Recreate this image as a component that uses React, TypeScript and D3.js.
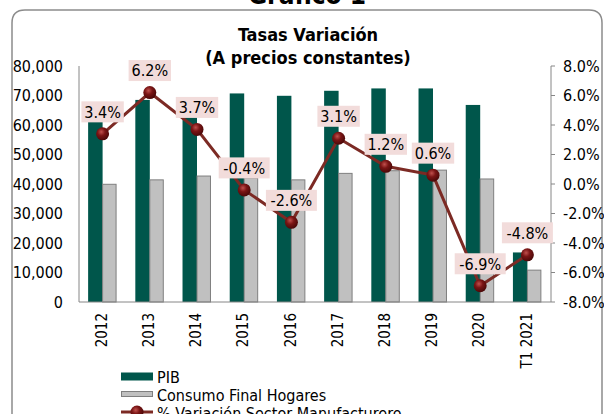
import React from 'react';
import * as d3 from 'd3';

const categories = ["2012", "2013", "2014", "2015", "2016", "2017", "2018", "2019", "2020", "T1 2021"];
const pib = [64500, 68500, 66500, 70700, 69900, 71600, 72400, 72400, 66800, 16800];
const consumo = [39900, 41400, 42700, 42000, 41400, 43600, 44500, 44700, 41700, 10800];
const variacion = [3.4, 6.2, 3.7, -0.4, -2.6, 3.1, 1.2, 0.6, -6.9, -4.8];
const leftTicks = [0, 10000, 20000, 30000, 40000, 50000, 60000, 70000, 80000];
const rightTicks = [-8, -6, -4, -2, 0, 2, 4, 6, 8];
const seriesNames = ["PIB", "Consumo Final Hogares", "% Variación Sector Manufacturero"];

const W = 604, H = 414;
const FONT = "'DejaVu Sans Condensed', 'DejaVu Sans', sans-serif";
const C_PIB = "#00564B";
const C_CONS = "#C0C0C0";
const C_CONS_STROKE = "#7F7F7F";
const C_LINE = "#7C2A24";
const C_LABEL = "#F2DCDB";
const C_AXIS = "#868686";

export default function App() {
  const left = 79, right = 551, top = 66, bottom = 302;
  const x0 = d3.scaleBand<string>().domain(categories).range([left, right]).padding(0);
  const x1 = d3.scaleBand<string>().domain(["pib", "cons"]).range([0, x0.bandwidth()]).paddingInner(0).paddingOuter(0.63);
  const yL = d3.scaleLinear().domain([0, 80000]).range([bottom, top]);
  const yR = d3.scaleLinear().domain([-8, 8]).range([bottom, top]);
  const fmtL = d3.format(",");
  const fmtR = (v: number) => v.toFixed(1) + "%";
  const cx = (c: string) => (x0(c) as number) + x0.bandwidth() / 2;
  const linePath = d3.line<number>().x((_, i) => cx(categories[i])).y((d) => yR(d))(variacion) || "";

  return (
    <svg width={W} height={H} style={{ position: 'absolute', left: 0, top: 0, background: '#fff' }} fontFamily={FONT}>
      <defs>
        <radialGradient id="ball" cx="40%" cy="35%" r="65%">
          <stop offset="0%" stopColor="#C0504D" />
          <stop offset="45%" stopColor="#7A1515" />
          <stop offset="100%" stopColor="#4A0808" />
        </radialGradient>
      </defs>
      <rect x={0} y={0} width={W} height={H} fill="#fff" />
      <text x={307} y={4} textAnchor="middle" fontSize={26} fontWeight="bold" fill="#000">Gráfico 1</text>
      <path d={`M12,${H + 10} L12,23 Q12,10 25,10 L589,10 Q602,10 602,23 L602,${H + 10}`} fill="none" stroke="#8C8C8C" strokeWidth={1.5} />

      <text x={308} y={41} textAnchor="middle" fontSize={18} fontWeight="bold">Tasas Variación</text>
      <text x={308} y={64} textAnchor="middle" fontSize={18} fontWeight="bold">(A precios constantes)</text>

      {/* bars */}
      {categories.map((c, i) => (
        <g key={c}>
          <rect x={(x0(c) as number) + (x1("pib") as number)} y={yL(pib[i])} width={x1.bandwidth()} height={bottom - yL(pib[i])} fill={C_PIB} />
          <rect x={(x0(c) as number) + (x1("cons") as number)} y={yL(consumo[i])} width={x1.bandwidth() - 1} height={bottom - yL(consumo[i])} fill={C_CONS} stroke={C_CONS_STROKE} strokeWidth={1} />
        </g>
      ))}

      {/* axes */}
      <line x1={left} x2={left} y1={top} y2={bottom} stroke={C_AXIS} strokeWidth={1} />
      <line x1={left} x2={right} y1={bottom} y2={bottom} stroke={C_AXIS} strokeWidth={1} />
      <line x1={right} x2={right} y1={top} y2={bottom} stroke={C_AXIS} strokeWidth={1} />
      {rightTicks.map((t) => (
        <g key={t}>
          <line x1={right} x2={right + 4} y1={yR(t)} y2={yR(t)} stroke={C_AXIS} />
          <text x={563} y={yR(t)} dy="0.35em" fontSize={16}>{fmtR(t)}</text>
        </g>
      ))}
      {leftTicks.map((t) => (
        <text key={t} x={63} y={yL(t)} dy="0.35em" textAnchor="end" fontSize={16}>{fmtL(t)}</text>
      ))}
      {categories.map((c) => (
        <text key={c} transform={`translate(${cx(c) - 1},313) rotate(-90)`} dy="0.35em" textAnchor="end" fontSize={15}>{c}</text>
      ))}

      {/* line */}
      <path d={linePath} fill="none" stroke={C_LINE} strokeWidth={3} />
      {variacion.map((v, i) => (
        <circle key={i} cx={cx(categories[i])} cy={yR(v)} r={6.5} fill="url(#ball)" />
      ))}

      {/* labels */}
      {variacion.map((v, i) => {
        const t = fmtR(v);
        const w = t.length * 8.6 + 8;
        const lx = cx(categories[i]);
        const ly = yR(v) - 22;
        return (
          <g key={'l' + i}>
            <rect x={lx - w / 2} y={ly - 10.5} width={w} height={21} fill={C_LABEL} />
            <text x={lx} y={ly} dy="0.36em" textAnchor="middle" fontSize={16}>{t}</text>
          </g>
        );
      })}

      {/* legend */}
      <rect x={121} y={372.5} width={32} height={8} fill={C_PIB} />
      <text x={157} y={383} fontSize={16}>{seriesNames[0]}</text>
      <rect x={121.5} y={391.5} width={31} height={5} fill={C_CONS} stroke={C_CONS_STROKE} />
      <text x={157} y={401} fontSize={16}>{seriesNames[1]}</text>
      <line x1={121} x2={153} y1={412} y2={412} stroke={C_LINE} strokeWidth={3} />
      <circle cx={137} cy={412} r={6.5} fill="url(#ball)" />
      <text x={157} y={419} fontSize={16}>{seriesNames[2]}</text>
    </svg>
  );
}
